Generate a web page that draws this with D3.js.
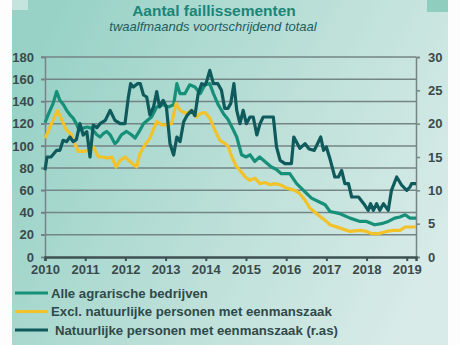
<!DOCTYPE html>
<html>
<head>
<meta charset="utf-8">
<script src="https://cdn.jsdelivr.net/npm/d3@7"></script>
<style>
  body { margin: 0; background: #fdfdfd; }
  svg { display: block; font-family: "Liberation Sans", Arial, sans-serif; }
</style>
</head>
<body>
<div id="chart"></div>
<script>
// twelve-month rolling totals, [decimal year, value]
const alleAgrarisch = [
  [2010.0, 121], [2010.1, 130], [2010.2, 138], [2010.29, 149], [2010.37, 141], [2010.46, 137],
  [2010.54, 132], [2010.62, 128], [2010.7, 125], [2010.78, 120], [2010.85, 114], [2010.95, 116],
  [2011.05, 117], [2011.15, 116], [2011.29, 110], [2011.37, 108], [2011.45, 111], [2011.53, 113],
  [2011.62, 110], [2011.74, 102], [2011.8, 104], [2011.9, 110], [2012.03, 113], [2012.15, 110],
  [2012.24, 107], [2012.36, 114], [2012.45, 120], [2012.55, 123], [2012.65, 126], [2012.78, 135],
  [2012.94, 137], [2013.07, 135], [2013.2, 137], [2013.28, 156], [2013.36, 147], [2013.48, 147],
  [2013.6, 155], [2013.73, 153], [2013.86, 147], [2013.98, 155], [2014.1, 156], [2014.19, 147],
  [2014.31, 137], [2014.44, 129], [2014.55, 124], [2014.65, 117], [2014.77, 108], [2014.89, 92],
  [2015.0, 90], [2015.1, 92], [2015.22, 86], [2015.34, 90], [2015.47, 86], [2015.63, 81],
  [2015.75, 79], [2015.88, 75], [2016.09, 75], [2016.26, 66], [2016.43, 60], [2016.63, 53],
  [2016.8, 50], [2016.97, 47], [2017.09, 41], [2017.34, 39], [2017.59, 35], [2017.84, 32],
  [2018.0, 32], [2018.2, 29], [2018.37, 30], [2018.54, 32], [2018.7, 35], [2018.83, 36],
  [2018.96, 38], [2019.08, 35], [2019.23, 35]
];

const exclNatuurlijk = [
  [2010.0, 107], [2010.08, 113], [2010.16, 120], [2010.31, 132], [2010.42, 123], [2010.54, 114],
  [2010.66, 110], [2010.75, 101], [2010.83, 95], [2010.95, 95], [2011.08, 96], [2011.2, 99],
  [2011.33, 90], [2011.45, 90], [2011.53, 89], [2011.66, 90], [2011.77, 81], [2011.87, 87],
  [2011.99, 90], [2012.11, 86], [2012.2, 83], [2012.28, 81], [2012.36, 93], [2012.49, 101],
  [2012.61, 107], [2012.78, 122], [2012.9, 119], [2013.02, 119], [2013.15, 120], [2013.26, 138],
  [2013.36, 132], [2013.52, 129], [2013.65, 132], [2013.77, 126], [2013.86, 129], [2013.98, 130],
  [2014.1, 125], [2014.23, 114], [2014.35, 105], [2014.48, 102], [2014.55, 100], [2014.65, 90],
  [2014.75, 82], [2014.85, 78], [2014.98, 72], [2015.1, 69], [2015.22, 71], [2015.35, 66],
  [2015.47, 67], [2015.6, 65], [2015.72, 66], [2015.85, 65], [2016.01, 62], [2016.22, 60],
  [2016.34, 57], [2016.47, 51], [2016.59, 44], [2016.76, 39], [2017.0, 32], [2017.09, 29],
  [2017.34, 26], [2017.59, 23], [2017.84, 24], [2018.0, 23], [2018.13, 21], [2018.3, 21],
  [2018.5, 23], [2018.67, 24], [2018.83, 24], [2018.96, 27], [2019.1, 27], [2019.23, 27]
];

// right axis
const natuurlijkEenmanszaak = [
  [2010.0, 13], [2010.05, 15], [2010.15, 15], [2010.29, 16], [2010.37, 16], [2010.45, 17.5],
  [2010.54, 17.3], [2010.62, 18], [2010.7, 17.3], [2010.78, 17.6], [2010.87, 20], [2010.95, 18.3],
  [2011.04, 18.8], [2011.12, 15], [2011.2, 19.8], [2011.29, 19.4], [2011.37, 20], [2011.5, 20.5],
  [2011.62, 22], [2011.74, 20.5], [2011.87, 20], [2011.99, 20], [2012.07, 23.8], [2012.13, 26],
  [2012.2, 25.5], [2012.3, 26], [2012.37, 26], [2012.45, 24.3], [2012.53, 24], [2012.61, 21.3],
  [2012.7, 22.5], [2012.78, 24.8], [2012.85, 22.5], [2012.94, 23.5], [2013.02, 22.5], [2013.11, 17],
  [2013.2, 15.3], [2013.28, 18], [2013.36, 17.3], [2013.45, 20.3], [2013.53, 21.2], [2013.65, 22],
  [2013.73, 21.2], [2013.81, 24.5], [2013.9, 26], [2013.98, 25.8], [2014.02, 26.3], [2014.1, 28],
  [2014.19, 26], [2014.3, 26], [2014.39, 25], [2014.47, 22.3], [2014.55, 22.3], [2014.62, 23],
  [2014.7, 26], [2014.77, 22], [2014.85, 20], [2014.93, 22], [2015.01, 20], [2015.1, 21],
  [2015.18, 21], [2015.27, 18.3], [2015.35, 20], [2015.43, 21], [2015.55, 21], [2015.68, 21],
  [2015.76, 16.5], [2015.85, 14.5], [2015.97, 14], [2016.13, 14], [2016.19, 18], [2016.34, 16.3],
  [2016.47, 17], [2016.57, 16.2], [2016.7, 16], [2016.86, 18], [2016.93, 16], [2017.0, 16.5],
  [2017.1, 14.5], [2017.21, 12], [2017.3, 12], [2017.38, 13], [2017.46, 11], [2017.55, 11],
  [2017.63, 9], [2017.8, 9], [2017.93, 8], [2018.04, 7], [2018.1, 8], [2018.17, 7],
  [2018.25, 8], [2018.33, 7], [2018.42, 8], [2018.54, 7], [2018.62, 10], [2018.75, 12],
  [2018.87, 10.8], [2019.0, 10], [2019.08, 10.5], [2019.12, 11], [2019.23, 11]
];

const years = d3.range(2010, 2020);
const leftTicks = d3.range(0, 181, 20);
const rightTicks = d3.range(0, 31, 5);

const legendItems = [
  { label: "Alle agrarische bedrijven", color: "#17907a", dx: 0 },
  { label: "Excl. natuurlijke personen met eenmanszaak", color: "#f2c22a", dx: 0 },
  { label: "Natuurlijke personen met eenmanszaak (r.as)", color: "#0e5a5c", dx: 4 }
];

const width = 460, height = 345;
const svg = d3.select("#chart").append("svg")
  .attr("width", width)
  .attr("height", height);

// panel background
const defs = svg.append("defs");
const grad = defs.append("linearGradient")
  .attr("id", "bg")
  .attr("x1", "0%").attr("y1", "30%")
  .attr("x2", "100%").attr("y2", "70%");
grad.append("stop").attr("offset", "0%").attr("stop-color", "#98d2c6");
grad.append("stop").attr("offset", "55%").attr("stop-color", "#bde0d9");
grad.append("stop").attr("offset", "100%").attr("stop-color", "#d8ebe8");

svg.append("rect")
  .attr("x", 12).attr("y", 0)
  .attr("width", 436).attr("height", height)
  .attr("fill", "url(#bg)");
svg.append("rect")
  .attr("x", 12).attr("y", 0).attr("width", 16).attr("height", 10)
  .attr("fill", "#c6e4de");
svg.append("rect")
  .attr("x", 427).attr("y", 0).attr("width", 21).attr("height", 12)
  .attr("fill", "#8fcdbf");

const x = d3.scaleLinear().domain([2010, 2019.23]).range([45, 416]);
const yL = d3.scaleLinear().domain([0, 180]).range([257, 57]);
const yR = d3.scaleLinear().domain([0, 30]).range([257, 57]);

const textColor = "#3a4a4c";
const gridColor = "#758586";

// gridlines
svg.append("g")
  .selectAll("line")
  .data(leftTicks.filter(d => d > 0))
  .join("line")
  .attr("x1", 41).attr("x2", x.range()[1])
  .attr("y1", d => yL(d)).attr("y2", d => yL(d))
  .attr("stroke", gridColor)
  .attr("stroke-width", 1.5);

// left axis
const left = svg.append("g")
  .attr("transform", `translate(${x.range()[0]},0)`)
  .call(d3.axisLeft(yL).tickValues(leftTicks).tickSize(4).tickPadding(7));
// right axis
const right = svg.append("g")
  .attr("transform", `translate(${x.range()[1]},0)`)
  .call(d3.axisRight(yR).tickValues(rightTicks).tickSize(4).tickPadding(8));

[left, right].forEach(g => {
  g.select(".domain").attr("stroke", gridColor).attr("stroke-width", 1.5);
  g.selectAll(".tick line").attr("stroke", gridColor).attr("stroke-width", 1.5);
  g.selectAll(".tick text")
    .attr("fill", textColor)
    .style("font-size", "13px")
    .style("font-weight", "bold")
    .style("font-family", "Liberation Sans, Arial, sans-serif");
});

// bottom axis
const bottom = svg.append("g")
  .attr("transform", `translate(0,${yL(0)})`)
  .call(d3.axisBottom(x).tickValues(years).tickFormat(d3.format("d")).tickSize(4).tickPadding(4));
bottom.select(".domain").attr("stroke", "#3e5052").attr("stroke-width", 2.5);
bottom.selectAll(".tick line").attr("stroke", "#3e5052").attr("stroke-width", 2);
bottom.selectAll(".tick text")
  .attr("fill", textColor)
  .style("font-size", "13px")
  .style("font-weight", "bold")
  .style("font-family", "Liberation Sans, Arial, sans-serif");

// series
const lineL = d3.line().x(d => x(d[0])).y(d => yL(d[1]));
const lineR = d3.line().x(d => x(d[0])).y(d => yR(d[1]));

const series = [
  { data: alleAgrarisch, line: lineL, color: legendItems[0].color },
  { data: exclNatuurlijk, line: lineL, color: legendItems[1].color },
  { data: natuurlijkEenmanszaak, line: lineR, color: legendItems[2].color }
];

series.forEach(s => {
  svg.append("path")
    .datum(s.data)
    .attr("fill", "none")
    .attr("stroke", s.color)
    .attr("stroke-width", 3.2)
    .attr("stroke-linejoin", "round")
    .attr("d", s.line);
});

// titles
svg.append("text")
  .attr("x", 214).attr("y", 16)
  .attr("text-anchor", "middle")
  .attr("fill", "#1b8578")
  .style("font-size", "15.5px")
  .style("font-weight", "bold")
  .text("Aantal faillissementen");

svg.append("text")
  .attr("x", 213).attr("y", 31)
  .attr("text-anchor", "middle")
  .attr("fill", "#1f5c5e")
  .style("font-size", "13px")
  .style("font-style", "italic")
  .text("twaalfmaands voortschrijdend totaal");

// legend
const legend = svg.append("g")
  .selectAll("g")
  .data(legendItems)
  .join("g")
  .attr("transform", (d, i) => `translate(0,${293 + i * 18.5})`);

legend.append("line")
  .attr("x1", 15).attr("x2", 48)
  .attr("stroke", d => d.color)
  .attr("stroke-width", 3);

legend.append("text")
  .attr("x", d => 51 + d.dx).attr("y", 4.5)
  .attr("fill", "#2f4a4b")
  .style("font-size", "13.2px")
  .style("font-weight", "bold")
  .text(d => d.label);
</script>
</body>
</html>
